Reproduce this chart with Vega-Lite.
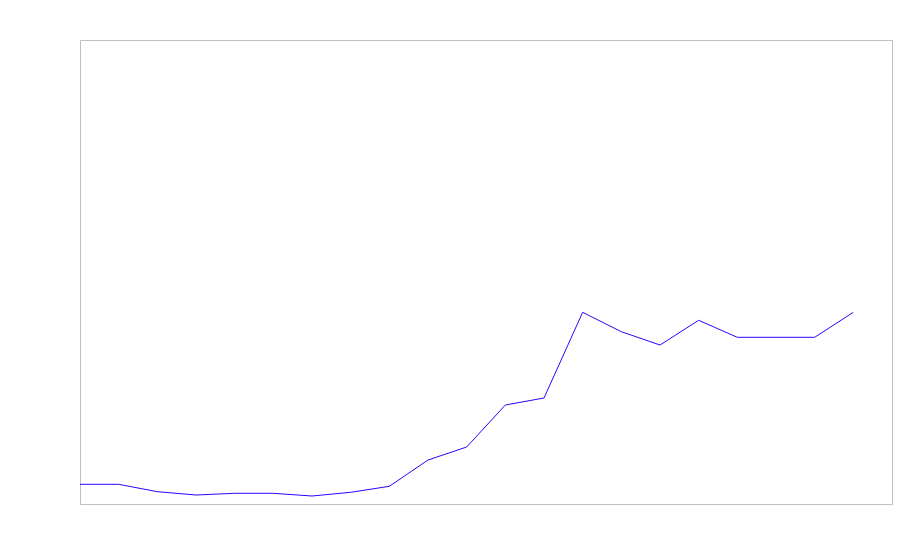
{
  "$schema": "https://vega.github.io/schema/vega-lite/v6.json",
  "width": 812,
  "height": 464,
  "padding": {"left": 78, "top": 40, "right": 10, "bottom": 56},
  "background": "white",
  "config": {"view": {"stroke": "#c0c0c0", "strokeWidth": 1}},
  "data": {"values": [
    {"i": 0, "v": 19.7},
    {"i": 1, "v": 19.7},
    {"i": 2, "v": 12.3},
    {"i": 3, "v": 9},
    {"i": 4, "v": 10.7},
    {"i": 5, "v": 10.7},
    {"i": 6, "v": 8},
    {"i": 7, "v": 11.7},
    {"i": 8, "v": 17.7},
    {"i": 9, "v": 44},
    {"i": 10, "v": 57},
    {"i": 11, "v": 99},
    {"i": 12, "v": 106},
    {"i": 13, "v": 191.7},
    {"i": 14, "v": 172.3},
    {"i": 15, "v": 159},
    {"i": 16, "v": 183.7},
    {"i": 17, "v": 166.7},
    {"i": 18, "v": 166.7},
    {"i": 19, "v": 166.7},
    {"i": 20, "v": 191.7}
  ]},
  "mark": {"type": "line", "color": "#3300ff", "strokeWidth": 1},
  "encoding": {
    "x": {"field": "i", "type": "quantitative", "scale": {"domain": [0, 21], "nice": false, "zero": false}, "axis": null},
    "y": {"field": "v", "type": "quantitative", "scale": {"domain": [0, 464], "nice": false}, "axis": null}
  }
}
